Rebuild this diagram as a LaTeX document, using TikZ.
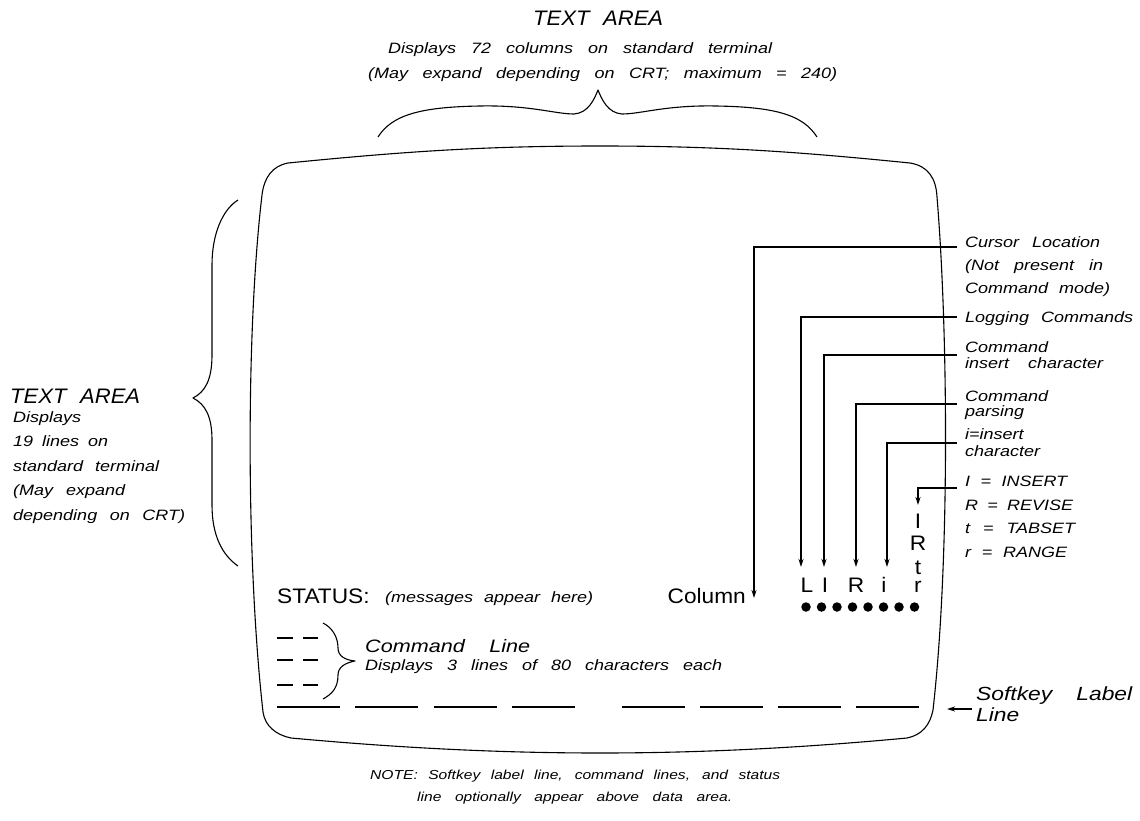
\documentclass[tikz,border=0pt]{standalone}
\usepackage{fontspec}
\setmainfont{Liberation Sans}
\newfontfamily\cad[FakeStretch=1.2]{Liberation Sans}
\newfontfamily\cadt[FakeStretch=1.05]{Liberation Sans}
\newfontfamily\upr[FakeStretch=1.08]{Liberation Sans}
\usetikzlibrary{arrows.meta}
\newcommand{\fitw}[2]{\makebox[#1][s]{#2}}
\begin{document}
\begin{tikzpicture}[x=1pt,y=-1pt,
  outline/.style={line width=1.1pt,line join=round},
  lead/.style={line width=1.6pt,-{Stealth[length=8pt,width=5pt]}},
  keyline/.style={line width=2.2pt},
  dashrow/.style={line width=1.8pt},
  ital/.style={inner sep=0pt,anchor=base west,font=\cad\itshape\fontsize{#1}{#1}\selectfont},
  ttl/.style={inner sep=0pt,anchor=base west,font=\cadt\itshape\fontsize{21}{21}\selectfont},
  upl/.style={inner sep=0pt,anchor=base,font=\upr\fontsize{21}{21}\selectfont},
  upw/.style={inner sep=0pt,anchor=base west,font=\upr\fontsize{21}{21}\selectfont},
  dot/.style={circle,fill=black,inner sep=0pt,minimum size=9.5pt}]
\fill[white] (0,0) rectangle (1140,821);
\useasboundingbox (0,0) rectangle (1140,821);

% screen outline
\draw[outline] (288,163) .. controls (400,152) and (480,146) .. (600,146)
  .. controls (720,146) and (800,152) .. (910,163)
  .. controls (928,166) and (936,178) .. (937,197)
  .. controls (948,330) and (950,560) .. (933,710)
  .. controls (930,725) and (922,735) .. (907,738)
  .. controls (800,748) and (700,753) .. (600,753)
  .. controls (500,753) and (400,748) .. (291,738)
  .. controls (276,735) and (265,726) .. (263,712)
  .. controls (246,560) and (246,330) .. (262,195)
  .. controls (264,178) and (272,166) .. (288,163) -- cycle;

% top brace
\draw[outline] (378,137) .. controls (392,115) and (420,107) .. (480,106)
  .. controls (530,105) and (555,114) .. (574,114)
  .. controls (588,113) and (594,100) .. (598,90)
  .. controls (602,100) and (608,113) .. (622,114)
  .. controls (641,114) and (666,105) .. (716,106)
  .. controls (776,107) and (803,115) .. (817,137);
% left brace
\draw[outline] (238,200) .. controls (222,210) and (212,235) .. (212,265) -- (212,355)
  .. controls (212,380) and (205,392) .. (193,398)
  .. controls (205,404) and (212,416) .. (212,440) -- (212,505)
  .. controls (212,535) and (222,555) .. (238,566);
% command line brace
\draw[outline] (323,623) .. controls (333,628) and (338,638) .. (338,648)
  .. controls (338,656) and (345,660) .. (355,661)
  .. controls (345,663) and (338,667) .. (338,675)
  .. controls (338,688) and (332,694) .. (323,699);

% top texts
\node[ttl] (ttitle) at (533,26) {\fitw{130pt}{TEXT AREA}};
\node[ital=15] (tline1) at (388,54) {\fitw{384pt}{Displays 72 columns on standard terminal}};
\node[ital=15] (tline2) at (368,79) {\fitw{469pt}{(May expand depending on CRT; maximum = 240)}};

% left texts
\node[ttl] (ltitle) at (10,403) {\fitw{130pt}{TEXT AREA}};
\node[ital=15] (ll1) at (13,422) {Displays};
\node[ital=15] (ll2) at (13,446) {\fitw{95pt}{19 lines on}};
\node[ital=15] (ll3) at (13,471) {\fitw{146pt}{standard terminal}};
\node[ital=15] (ll4) at (13,495) {\fitw{112pt}{(May expand}};
\node[ital=15] (ll5) at (13,520) {\fitw{172pt}{depending on CRT)}};

% right labels
\node[ital=15] (r1) at (965,247) {\fitw{135pt}{Cursor Location}};
\node[ital=15] (r2) at (965,270) {\fitw{138pt}{(Not present in}};
\node[ital=15] (r3) at (965,293) {\fitw{145pt}{Command mode)}};
\node[ital=15] (r4) at (965,322) {\fitw{168pt}{Logging Commands}};
\node[ital=15] (r5) at (965,352) {Command};
\node[ital=15] (r6) at (965,368) {\fitw{138pt}{insert character}};
\node[ital=15] (r7) at (965,401) {Command};
\node[ital=15] (r8) at (965,416) {parsing};
\node[ital=15] (r9) at (965,439) {i=insert};
\node[ital=15] (r10) at (965,456) {character};
\node[ital=15] (r11) at (965,486) {\fitw{102pt}{I = INSERT}};
\node[ital=15] (r12) at (965,510) {\fitw{108pt}{R = REVISE}};
\node[ital=15] (r13) at (965,533) {\fitw{110pt}{t = TABSET}};
\node[ital=15] (r14) at (965,557) {\fitw{102pt}{r = RANGE}};

% status line
\node[upw] (status) at (277,603) {STATUS:};
\node[ital=15] (msg) at (385,602) {\fitw{208pt}{(messages appear here)}};
\node[upl,anchor=base east] (column) at (746,603) {Column};

% mode letters
\node[upl] (mL) at (807,592) {L};
\node[upl] (mI) at (825,592) {I};
\node[upl] (mR) at (856,592) {R};
\node[upl] (mi) at (884,592) {i};
\node[upl] (sI) at (918,528) {I};
\node[upl] (sR) at (918,550) {R};
\node[upl] (str) at (918,592) {\shortstack{t\\[3pt]r}};

% dots
\foreach \k in {0,...,7} {
  \node[dot] (d\k) at ({806+15.5*\k},607) {};
}

% leaders
\coordinate (k1) at (957,247); \coordinate (a1) at (754,598);
\coordinate (k2) at (957,317); \coordinate (a2) at (801,567);
\coordinate (k3) at (957,355); \coordinate (a3) at (824,567);
\coordinate (k4) at (957,404); \coordinate (a4) at (856,567);
\coordinate (k5) at (957,443); \coordinate (a5) at (887,567);
\coordinate (k6) at (957,488); \coordinate (a6) at (918,505);
\draw[lead] (k1) -| (a1);
\draw[lead] (k2) -| (a2);
\draw[lead] (k3) -| (a3);
\draw[lead] (k4) -| (a4);
\draw[lead] (k5) -| (a5);
\draw[lead] (k6) -| (a6);

% command line
\foreach \y [count=\i] in {638,660,685} {
  \coordinate (cla\i) at (277,\y); \coordinate (clb\i) at (293,\y);
  \coordinate (clc\i) at (303,\y); \coordinate (cld\i) at (318,\y);
  \draw[dashrow] (cla\i) -- (clb\i);
  \draw[dashrow] (clc\i) -- (cld\i);
}
\node[ital=18] (cmdline) at (365,652) {\fitw{165pt}{Command Line}};
\node[ital=15] (cmddisp) at (365,670) {\fitw{357pt}{Displays 3 lines of 80 characters each}};

% softkey label lines
\foreach \x [count=\i] in {277,355,434,512,622,700,778,856} {
  \coordinate (ska\i) at (\x,707); \coordinate (skb\i) at ({\x+63},707);
  \draw[keyline] (ska\i) -- (skb\i);
}
\coordinate (s1) at (972,709); \coordinate (s2) at (947,709);
\draw[lead] (s1) -- (s2);
\node[ital=19] (sk1) at (976,700) {\fitw{156pt}{Softkey Label}};
\node[ital=19] (sk2) at (976,721) {Line};

% note
\node[ital=13] (note1) at (370,779) {\fitw{410pt}{NOTE: Softkey label line, command lines, and status}};
\node[ital=13] (note2) at (417,801) {\fitw{315pt}{line optionally appear above data area.}};
\end{tikzpicture}
\end{document}
